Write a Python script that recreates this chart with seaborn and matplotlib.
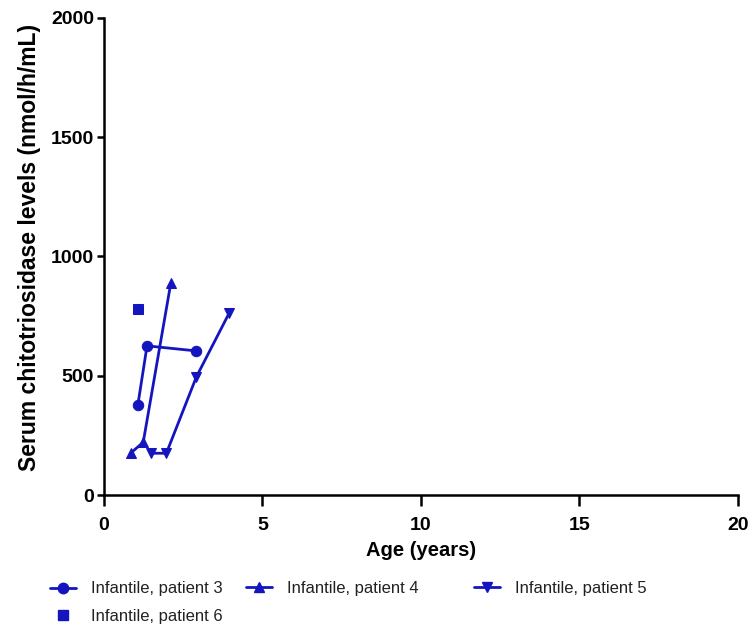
import matplotlib
matplotlib.use("Agg")
import matplotlib.pyplot as plt
from matplotlib.lines import Line2D
import seaborn as sns
import pandas as pd

# Serum chitotriosidase follow-up per patient
p3_age = [1.07, 1.36, 2.90]
p3_level = [377, 625, 604]
p4_age = [0.84, 1.24, 2.11]
p4_level = [175, 221, 888]
p5_age = [1.47, 1.97, 2.92, 3.95]
p5_level = [175, 175, 496, 762]
p6_age = [1.06]
p6_level = [780]

labels = ["Infantile, patient 3", "Infantile, patient 4",
          "Infantile, patient 5", "Infantile, patient 6"]
x_ticks = [0, 5, 10, 15, 20]
y_ticks = [0, 500, 1000, 1500, 2000]

rows = []
for lab, ages, levels in zip(labels, [p3_age, p4_age, p5_age, p6_age],
                             [p3_level, p4_level, p5_level, p6_level]):
    for a, v in zip(ages, levels):
        rows.append({"patient": lab, "age": a, "level": v})
df = pd.DataFrame(rows)

sns.set_theme(style="ticks")
plt.rcParams["font.family"] = ["Liberation Sans", "DejaVu Sans"]
plt.rcParams["text.color"] = "black"
plt.rcParams["axes.labelcolor"] = "black"
plt.rcParams["xtick.color"] = "black"
plt.rcParams["ytick.color"] = "black"

blue = "#1515c0"
markers = {labels[0]: "o", labels[1]: "^", labels[2]: "v", labels[3]: "s"}

fig = plt.figure(figsize=(7.53, 6.33), dpi=100)
ax = fig.add_axes([0.138, 0.218, 0.842, 0.754])

sns.lineplot(data=df, x="age", y="level", hue="patient", style="patient",
             markers=markers, dashes=False, sort=False,
             palette=[blue] * 4, markersize=7.5, linewidth=2,
             markeredgecolor=blue, legend=False, ax=ax)
# patient 6 has a single measurement: marker only
for line in ax.lines:
    if len(line.get_xdata()) == 1:
        line.set_linestyle("none")

ax.set_xlim(0, 20)
ax.set_ylim(0, 2000)
ax.set_xticks(x_ticks)
ax.set_yticks(y_ticks)
ax.tick_params(axis="both", width=1.8, labelsize=14, direction="out")
ax.tick_params(axis="x", length=8, pad=8)
ax.tick_params(axis="y", length=5, pad=2)
for t in ax.get_xticklabels() + ax.get_yticklabels():
    t.set_fontweight("bold")
for s in ["left", "bottom"]:
    ax.spines[s].set_linewidth(1.8)
    ax.spines[s].set_color("black")
sns.despine(ax=ax)

ax.set_xlabel("Age (years)", fontsize=14.5, fontweight="bold", labelpad=5)
ax.set_ylabel("Serum chitotriosidase levels (nmol/h/mL)", fontsize=16.5,
              fontweight="bold")
ax.yaxis.set_label_coords(-0.1, 0.519)


def handle(marker, with_line=True):
    return Line2D([], [], color=blue, marker=marker, markersize=7.5,
                  lw=2 if with_line else 0)


legend_kw = dict(frameon=False, fontsize=12, handlelength=1.55,
                 handletextpad=0.9, labelspacing=0.75, borderpad=0,
                 borderaxespad=0, labelcolor="#222222")
fig.legend([handle("o"), handle("s", False)], [labels[0], labels[3]],
           loc="center left", bbox_to_anchor=(0.066, 0.048), **legend_kw)
fig.legend([handle("^")], [labels[1]],
           loc="center left", bbox_to_anchor=(0.327, 0.071), **legend_kw)
fig.legend([handle("v")], [labels[2]],
           loc="center left", bbox_to_anchor=(0.630, 0.071), **legend_kw)

fig.savefig("out.png", dpi=100)
